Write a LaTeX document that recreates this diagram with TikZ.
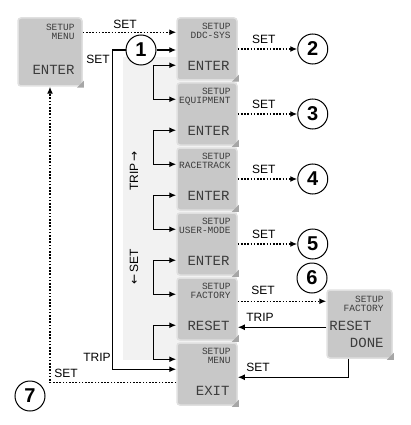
\documentclass[tikz,border=0pt]{standalone}
\usepackage{fontspec}
\setmainfont{Liberation Sans}
\newfontfamily\lcdfont{Liberation Mono}
\newfontfamily\symfont{DejaVu Sans}
\usetikzlibrary{calc,arrows.meta}

\definecolor{lcdgray}{RGB}{200,200,200}
\definecolor{lcdrim}{RGB}{224,224,224}
\definecolor{lcdtext}{RGB}{60,60,60}
\definecolor{panelgray}{RGB}{242,242,242}

\begin{document}
\begin{tikzpicture}[x=1pt, y=-1pt, >={Latex[length=7pt,width=6pt]},
    disp/.style={rectangle, rounded corners=3pt, fill=lcdgray, draw=lcdrim, line width=1.5pt, inner sep=0pt},
    small/.style={font=\lcdfont\fontsize{9.5}{8.5}\selectfont, text=lcdtext, align=right, inner sep=0pt},
    big/.style={font=\lcdfont\fontsize{14}{14}\selectfont, text=lcdtext, inner sep=0pt},
    num/.style={circle, draw, fill=white, line width=1pt, minimum size=30pt, inner sep=0pt, font=\bfseries\fontsize{20}{20}\selectfont},
    lbl/.style={font=\fontsize{12}{12}\selectfont},
    line/.style={line width=1.3pt},
    dots/.style={line width=1.3pt, dash pattern=on 1.6pt off 1.6pt}]
                \useasboundingbox (0,0) rectangle (411,425);
                \fill[panelgray] (123,57) rectangle (237,360);

                % left display
                \node[disp, minimum width=64pt, minimum height=68pt] (L) at (50,52) {};
                \fill[gray!70] ($(L.south east)+(1,1)$) -- ++(-7,0) -- ++(7,-7) -- cycle;
                \node[small, anchor=north east] at ($(L.north east)+(-8,7)$) {SETUP\\MENU};
                \node[big, anchor=base east] at ($(L.south east)+(-8,-12)$) {ENTER};

                % menu column
                \foreach \name/\key [count=\i] in {DDC-SYS/ENTER, EQUIPMENT/ENTER, RACETRACK/ENTER, USER-MODE/ENTER, FACTORY/RESET, MENU/EXIT} {
                    \pgfmathsetmacro{\y}{49 + 65*(\i-1)}
                    \node[disp, minimum width=60pt, minimum height=62pt] (B\i) at (207,\y) {};
                    \fill[gray!70] ($(B\i.south east)+(1,1)$) -- ++(-7,0) -- ++(7,-7) -- cycle;
                    \node[small, anchor=north east] at ($(B\i.north east)+(-7,6)$) {SETUP\\\name};
                    \node[big, anchor=base east] at ($(B\i.south east)+(-8,-10)$) {\key};
                }
                \foreach \i in {1,...,5} {
                    \pgfmathtruncatemacro{\j}{\i+1}
                    \draw[line, <->] ($(B\i.north west)+(0,48)$) -- ++(-23,0) |- ($(B\j.north west)+(0,17)$);
                }

                % entry and exit
                \node[num] (C1) at (141,50) {1};
                \draw[line, ->] (C1.east) -- (C1.east -| B1.west);
                \draw[line, ->] (C1.west) -- ++(-13,0) |- ($(B6.north west)+(0,27)$);
                \node[lbl] at (98,59) {SET};
                \node[lbl] at (97,357) {TRIP};
                \draw[dots, ->] ($(L.north east)+(0,15)$) -- ($(B1.north west)+(0,15)$);
                \node[lbl] at (125,24) {SET};
                \draw[dots, ->] ($(B6.north west)+(0,40)$) -| (L.south);
                \node[lbl] at (66,373) {SET};
                \node[num] (C7) at (30,396) {7};
                \node[lbl, rotate=90] at (134,171) {TRIP\,{\symfont →}};
                \node[lbl, rotate=90] at (134,267) {{\symfont ←}\,SET};

                % right side
                \foreach \i in {1,...,4} {
                    \pgfmathtruncatemacro{\n}{\i+1}
                    \node[num] (N\n) at ($(B\i.east)+(75,0)$) {\n};
                    \draw[dots, ->] (B\i.east) -- (N\n.west);
                    \node[lbl] at ($(B\i.east)+(26,-10)$) {SET};
                }
                \node[num] (N6) at (312,278) {6};
                \node[disp, minimum width=65pt, minimum height=68pt] (R) at (359.5,324) {};
                \fill[gray!70] ($(R.south east)+(1,1)$) -- ++(-7,0) -- ++(7,-7) -- cycle;
                \node[small, anchor=north east] at ($(R.north east)+(-9,7)$) {SETUP\\FACTORY};
                \node[big, anchor=base west] at ($(R.west)+(3,6)$) {RESET};
                \node[big, anchor=base east] at ($(R.south east)+(-9,-11)$) {DONE};
                \draw[dots, ->] ($(B5.north east)+(0,24)$) -- ($(R.north west)+(0,12)$);
                \node[lbl] at (263,290) {SET};
                \draw[line, ->] ($(R.north west)+(0,38)$) -- ($(B5.north east)+(0,50)$);
                \node[lbl] at (260,317) {TRIP};
                \draw[line, ->] ($(R.south west)+(22,0)$) |- ($(B6.north east)+(0,35)$);
                \node[lbl] at (258,367) {SET};
            \end{tikzpicture}
\end{document}
